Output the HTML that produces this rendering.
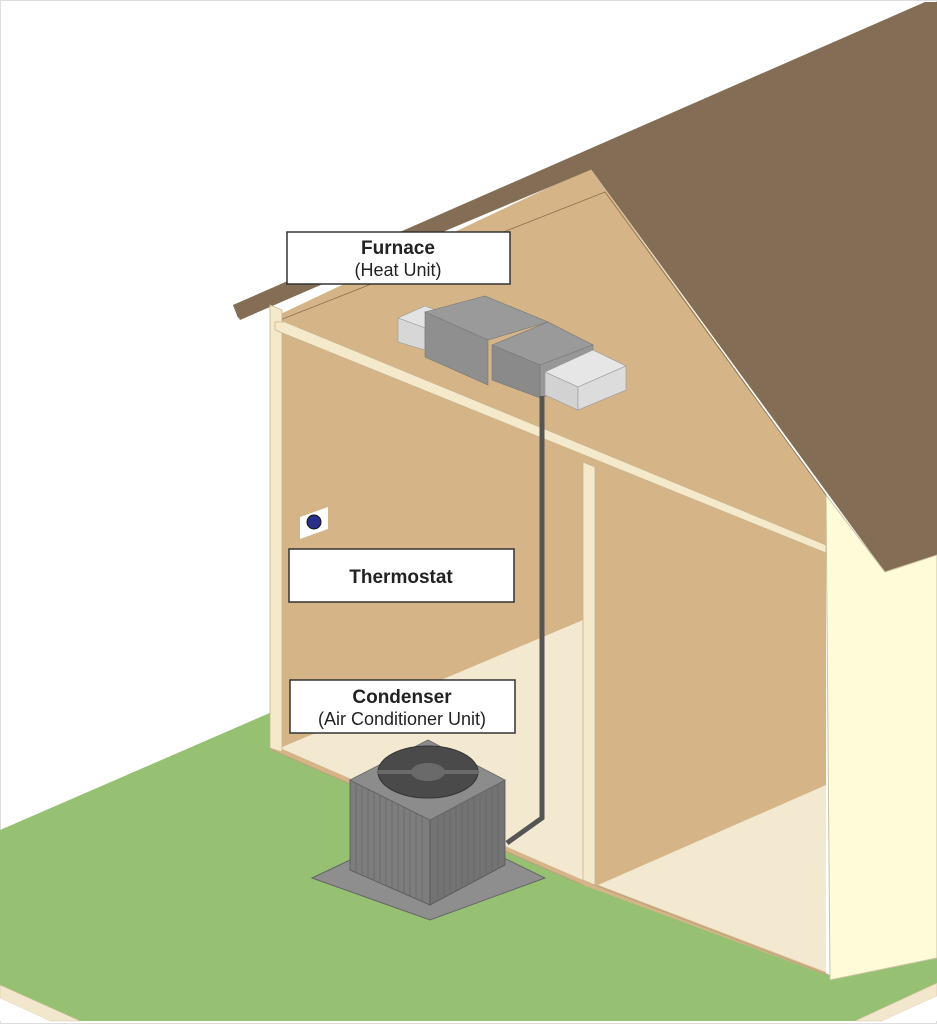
<!DOCTYPE html>
<html><head><meta charset="utf-8"><style>
html,body{margin:0;padding:0;background:#fff}
svg{display:block}
text{font-family:"Liberation Sans",Arial,sans-serif;fill:#222}
</style></head><body>
<svg width="937" height="1024" viewBox="0 0 937 1024" xmlns="http://www.w3.org/2000/svg">
<rect x="0.5" y="0.5" width="936" height="1023" fill="#fff" stroke="#ddd"/>
<!-- ground -->
<polygon points="0,830 272,712 272,750 583,885 600,885 830,975 937,930 937,1021 0,1021" fill="#96C173"/>
<polygon points="0,985 80,1021 50,1021 0,998" fill="#F2E6CC" stroke="#d8c3a0" stroke-width="0.6"/>
<polygon points="0,998 50,1021 0,1021" fill="#fff"/>
<polygon points="937,983 855,1021 882,1021 937,996" fill="#F2E6CC" stroke="#d8c3a0" stroke-width="0.6"/>
<polygon points="937,996 882,1021 937,1021" fill="#fff"/>
<!-- roof -->
<polygon points="233,305 925,2 937,2 937,555 885,572 590,168 240,320" fill="#836E55"/>
<!-- side cream wall -->
<polygon points="826,495 885,572 937,555 937,958 830,980" fill="#FFFAD8" stroke="#c9c3a0" stroke-width="1"/>
<!-- tan gable wall -->
<polygon points="272,318 590,168 826,495 826,975 583,885 272,750" fill="#D5B587"/>
<polyline points="280,320 605,192 826,495" fill="none" stroke="#8a7050" stroke-width="0.8"/>
<!-- left room cream floor -->
<polygon points="280,748 583,620 583,880" fill="#F3E8D0"/>
<!-- right room cream -->
<polygon points="598,885 826,785 826,972" fill="#F3E8D0"/>
<polyline points="272,750 583,885" stroke="#b8a27c" stroke-width="1" fill="none"/>
<polyline points="595,885 828,975" stroke="#b8a27c" stroke-width="1" fill="none"/>
<!-- studs -->
<polygon points="270,305 282,310 282,752 270,748" fill="#F5E9CC" stroke="#c9b48c" stroke-width="0.8"/>
<polygon points="583,462 595,467 595,885 583,880" fill="#F5E9CC" stroke="#c9b48c" stroke-width="0.8"/>
<!-- ceiling joist -->
<polygon points="275,322 285,322 826,545 826,553 275,330" fill="#F5E9CC" stroke="#c9b48c" stroke-width="0.8"/>
<!-- eave strip -->
<polygon points="233,305 590,160 595,168 238,318" fill="#836E55"/>
<!-- furnace -->
<polygon points="398,318 425,306 452,316 425,328" fill="#e3e3e3" stroke="#999" stroke-width="0.6"/>
<polygon points="398,318 425,328 425,350 398,342" fill="#d7d7d7" stroke="#999" stroke-width="0.6"/>
<polygon points="425,312 485,296 548,322 488,340" fill="#9a9a9a" stroke="#777" stroke-width="0.6"/>
<polygon points="425,312 488,340 488,385 425,357" fill="#8f8f8f" stroke="#777" stroke-width="0.6"/>
<polygon points="492,345 548,322 593,345 540,365" fill="#9a9a9a" stroke="#777" stroke-width="0.6"/>
<polygon points="492,345 540,365 540,398 492,380" fill="#8a8a8a" stroke="#777" stroke-width="0.6"/>
<polygon points="540,365 593,345 593,380 540,398" fill="#979797" stroke="#777" stroke-width="0.6"/>
<polygon points="545,372 593,350 626,366 578,387" fill="#e6e6e6" stroke="#999" stroke-width="0.6"/>
<polygon points="545,372 578,387 578,410 545,395" fill="#d2d2d2" stroke="#999" stroke-width="0.6"/>
<polygon points="578,387 626,366 626,390 578,410" fill="#dcdcdc" stroke="#999" stroke-width="0.6"/>
<!-- pipe -->
<polyline points="542,396 542,818 507,843" fill="none" stroke="#555" stroke-width="5"/>
<!-- thermostat -->
<polygon points="300,517 328,507 328,529 300,539" fill="#fff"/>
<circle cx="314" cy="522" r="7" fill="#2a2f8a" stroke="#111" stroke-width="1"/>
<!-- condenser -->
<polygon points="312,878 430,822 545,878 430,920" fill="#8e8e8e" stroke="#666" stroke-width="1"/>
<polygon points="350,780 430,820 430,905 350,870" fill="#7d7d7d" stroke="#555" stroke-width="0.8"/>
<polygon points="430,820 505,780 505,865 430,905" fill="#737373" stroke="#555" stroke-width="0.8"/>
<g stroke="#666" stroke-width="0.8">
<line x1="356" y1="783" x2="356" y2="872"/><line x1="362" y1="786" x2="362" y2="875"/><line x1="368" y1="789" x2="368" y2="878"/><line x1="374" y1="792" x2="374" y2="881"/><line x1="380" y1="795" x2="380" y2="883"/><line x1="386" y1="798" x2="386" y2="886"/><line x1="392" y1="801" x2="392" y2="888"/><line x1="398" y1="804" x2="398" y2="891"/><line x1="404" y1="807" x2="404" y2="893"/><line x1="410" y1="810" x2="410" y2="896"/><line x1="416" y1="813" x2="416" y2="899"/><line x1="422" y1="816" x2="422" y2="901"/>
<line x1="438" y1="816" x2="438" y2="901"/><line x1="444" y1="813" x2="444" y2="898"/><line x1="450" y1="809" x2="450" y2="894"/><line x1="456" y1="806" x2="456" y2="891"/><line x1="462" y1="803" x2="462" y2="888"/><line x1="468" y1="800" x2="468" y2="885"/><line x1="474" y1="797" x2="474" y2="882"/><line x1="480" y1="793" x2="480" y2="878"/><line x1="486" y1="790" x2="486" y2="875"/><line x1="492" y1="787" x2="492" y2="872"/><line x1="498" y1="784" x2="498" y2="869"/>
</g>
<polygon points="350,780 428,740 505,780 430,820" fill="#8c8c8c" stroke="#666" stroke-width="0.8"/>
<ellipse cx="428" cy="772" rx="50" ry="26" fill="#4a4a4a" stroke="#333"/>
<ellipse cx="428" cy="772" rx="17" ry="9" fill="#6a6a6a"/>
<line x1="378" y1="772" x2="478" y2="772" stroke="#6a6a6a" stroke-width="4"/>
<!-- labels -->
<rect x="287" y="232" width="223" height="52" fill="#fff" stroke="#333" stroke-width="1.5"/>
<text x="398" y="254" font-size="19" font-weight="bold" text-anchor="middle">Furnace</text>
<text x="398" y="276" font-size="18" text-anchor="middle">(Heat Unit)</text>
<rect x="289" y="549" width="225" height="53" fill="#fff" stroke="#333" stroke-width="1.5"/>
<text x="401" y="583" font-size="19" font-weight="bold" text-anchor="middle">Thermostat</text>
<rect x="290" y="680" width="225" height="53" fill="#fff" stroke="#333" stroke-width="1.5"/>
<text x="402" y="703" font-size="19" font-weight="bold" text-anchor="middle">Condenser</text>
<text x="402" y="725" font-size="18" text-anchor="middle">(Air Conditioner Unit)</text>
</svg>
</body></html>
